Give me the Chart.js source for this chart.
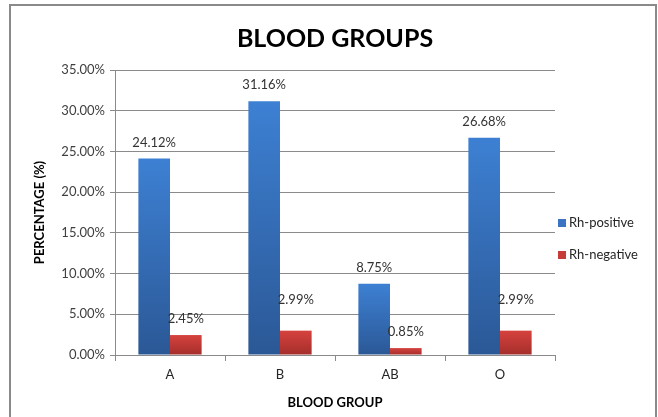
<!DOCTYPE html>
<html>
<head>
<meta charset="utf-8">
<script src="https://cdn.jsdelivr.net/npm/chart.js@4/dist/chart.umd.min.js"></script>
<style>
  html, body { margin: 0; padding: 0; background: #ffffff; }
  #wrap { width: 658px; height: 417px; position: relative; }
</style>
</head>
<body>
<div id="wrap"><canvas id="chart" width="658" height="417"></canvas></div>
<script>
// Blood group distribution (percent of donors)
const groups = ['A', 'B', 'AB', 'O'];
const rhPositive = [24.12, 31.16, 8.75, 26.68];
const rhNegative = [2.45, 2.99, 0.85, 2.99];
const yTicks = [0, 5, 10, 15, 20, 25, 30, 35];

const FONT = 'Lato, "Open Sans", sans-serif';

// Vertical gradient per bar, light at the top, darker at the base
function barGradient(top, bottom) {
  return (ctx) => {
    const chart = ctx.chart;
    const y = chart.scales && chart.scales.y;
    if (!chart.chartArea || !y || ctx.parsed === undefined) return bottom;
    const yTop = y.getPixelForValue(ctx.parsed.y);
    const yBase = y.getPixelForValue(0);
    const g = chart.ctx.createLinearGradient(0, yTop, 0, yBase);
    g.addColorStop(0, top);
    g.addColorStop(1, bottom);
    return g;
  };
}

// Outer frame around the whole chart
const framePlugin = {
  id: 'frame',
  beforeDraw(chart) {
    const c = chart.ctx;
    c.save();
    c.fillStyle = '#ffffff';
    c.fillRect(0, 0, chart.width, chart.height);
    c.strokeStyle = '#8a8a8a';
    c.lineWidth = 2;
    c.strokeRect(10, 5, 646, 430);
    c.restore();
  }
};

// Value labels above each bar
const valueLabels = {
  id: 'valueLabels',
  afterDatasetsDraw(chart, args, opts) {
    const c = chart.ctx;
    c.save();
    c.font = opts.font;
    c.fillStyle = opts.color;
    c.textAlign = 'center';
    c.textBaseline = 'middle';
    chart.data.datasets.forEach((ds, di) => {
      const meta = chart.getDatasetMeta(di);
      const lift = opts.lift[di];
      meta.data.forEach((bar, i) => {
        c.fillText(ds.data[i].toFixed(2) + '%', bar.x, bar.y - lift[i]);
      });
    });
    c.restore();
  }
};

// Legend at the right of the plot, one entry per series
const sideLegend = {
  id: 'sideLegend',
  afterDraw(chart, args, opts) {
    const c = chart.ctx;
    c.save();
    c.font = opts.font;
    c.textAlign = 'left';
    c.textBaseline = 'middle';
    chart.data.datasets.forEach((ds, i) => {
      const cy = opts.y + i * opts.gap;
      c.fillStyle = opts.swatch[i];
      c.fillRect(opts.x, cy - 4, 8, 8);
      c.fillStyle = opts.color;
      c.fillText(ds.label, opts.x + 11, cy);
    });
    c.restore();
  }
};

new Chart(document.getElementById('chart'), {
  type: 'bar',
  data: {
    labels: groups,
    datasets: [
      {
        label: 'Rh-positive',
        data: rhPositive,
        backgroundColor: barGradient('#3d80d3', '#2b5896'),
        borderWidth: 0
      },
      {
        label: 'Rh-negative',
        data: rhNegative,
        backgroundColor: barGradient('#d6423e', '#a42e2b'),
        borderWidth: 0
      }
    ]
  },
  options: {
    responsive: false,
    animation: false,
    layout: { padding: { top: 10, left: 32, right: 103, bottom: 0 } },
    datasets: {
      bar: { categoryPercentage: 0.575, barPercentage: 1.0 }
    },
    scales: {
      x: {
        afterFit(scale) { scale.height = 62; },
        grid: {
          display: true,
          drawOnChartArea: false,
          drawTicks: true,
          tickLength: 6,
          color: '#8a8a8a'
        },
        border: { color: '#8a8a8a' },
        ticks: { color: '#262626', font: { family: FONT, size: 13 }, padding: 6 },
        title: {
          display: true,
          text: 'BLOOD GROUP',
          color: '#000000',
          font: { family: FONT, size: 13, weight: 'bold' },
          padding: { top: 0, bottom: 6 }
        }
      },
      y: {
        min: 0,
        max: 35,
        afterFit(scale) { scale.width = 83; },
        afterBuildTicks(scale) {
          scale.ticks = yTicks.map(v => ({ value: v }));
        },
        grid: { color: '#8a8a8a', tickLength: 5 },
        border: { color: '#8a8a8a' },
        ticks: {
          color: '#404040',
          font: { family: FONT, size: 13 },
          padding: 5,
          callback: (v) => Number(v).toFixed(2) + '%'
        },
        title: {
          display: true,
          text: 'PERCENTAGE (%)',
          color: '#000000',
          font: { family: FONT, size: 13, weight: 'bold' },
          padding: { top: 0, bottom: 0 }
        }
      }
    },
    plugins: {
      title: {
        display: true,
        fullSize: false,
        text: 'BLOOD GROUPS',
        color: '#000000',
        font: { family: FONT, size: 25, weight: 'bold' },
        padding: { top: 14, bottom: 16 }
      },
      legend: { display: false },
      tooltip: { enabled: false },
      valueLabels: {
        font: '13px ' + FONT,
        color: '#333333',
        lift: [[16, 16, 16, 16], [16, 31, 16, 31]]
      },
      sideLegend: {
        x: 558,
        y: 223,
        gap: 32,
        font: '13px ' + FONT,
        color: '#262626',
        swatch: ['#3a74c2', '#c63c39']
      }
    }
  },
  plugins: [framePlugin, valueLabels, sideLegend]
});
</script>
</body>
</html>
